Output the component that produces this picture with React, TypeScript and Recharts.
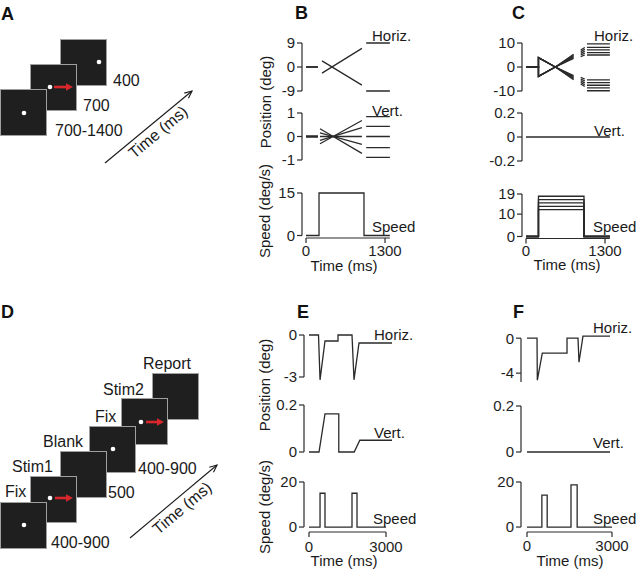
import React from 'react';
import { LineChart, Line, XAxis, YAxis, ReferenceLine } from 'recharts';

const FONT = '"Liberation Sans", Arial, Helvetica, sans-serif';
const INK = '#2a2a2a';

type Pt = { t: number; v: number | null };
const pts = (pairs: (number | null)[][]): Pt[] => pairs.map(([t, v]) => ({ t: t as number, v }));

// ---------------- Panel B (single speed, 2 horiz directions, 5 vertical offsets) ----------------
const bTimeTicks = [0, 1300];
const bHorizTicks = [-9, 0, 9];
const bVertTicks = [-1, 0, 1];
const bSpeedTicks = [0, 15];
const bFixTimes = [0, 197];
const bRampTimes = [263, 920];
const bVertRampTimes = [230, 920];
const bHoldTimes = [990, 1380];
const bHorizRampStart = [-2.3, 2.3];
const bHorizRampEnd = [7.0, -6.8];
const bHorizHold = [9, -9];
const bVertRampStart = [-0.31, -0.17, 0, 0.15, 0.33];
const bVertRampEnd = [0.68, 0.38, 0, -0.34, -0.72];
const bVertHold = [0.85, 0.43, 0, -0.47, -0.89];
const bSpeedTimes = [214, 954];
const bSpeedValue = 15;
const bEndTime = 1380;

// ---------------- Panel C (5 speeds x 2 directions) ----------------
const cTimeTicks = [0, 1300];
const cHorizTicks = [-10, 0, 10];
const cVertTicks = [-0.2, 0, 0.2];
const cSpeedTicks = [0, 10, 19];
const cStepTime = 205;
const cCrossTime = 483;
const cRampEndTime = 783;
const cTailTimes = [900, 967];
const cHoldTimes = [1003, 1380];
const cStepUp = -3.9;
const cStepDown = 3.9;
const cSpeeds = [12, 13.5, 15, 16.5, 18];
const cSpeedOffTime = 954;
const cRampEndUp = [3.6, 4.0, 4.5, 4.9, 5.3];
const cTailStartUp = [4.3, 5.0, 5.7, 6.4, 7.1];
const cTailEndUp = [5.0, 5.8, 6.6, 7.4, 8.1];
const cHoldUp = [5.0, 6.0, 7.1, 8.2, 9.6];
const cRampEndDown = [-3.6, -4.0, -4.5, -4.9, -5.3];
const cTailStartDown = [-4.3, -5.0, -5.7, -6.4, -7.1];
const cTailEndDown = [-5.0, -5.8, -6.6, -7.4, -8.1];
const cHoldDown = [-5.4, -6.5, -7.6, -8.7, -9.9];
const cEndTime = 1380;

// ---------------- Panel E ----------------
const eTimeTicks = [0, 3000];
const eHorizTicks = [-3, 0];
const eVertTicks = [0, 0.2];
const eSpeedTicks = [0, 20];
const eHoriz = [[0, 0], [370, 0], [430, -3.2], [623, -0.43], [1130, -0.43], [1130, 0], [1675, 0], [1753, -3.2], [1948, -0.57], [3234, -0.57]];
const eVert = [[0, 0], [390, 0], [623, 0.1625], [1160, 0.1625], [1160, 0], [1760, 0], [1980, 0.05], [3234, 0.05]];
const eSpeed = [[0, 0], [430, 0], [430, 15], [623, 15], [623, 0], [1675, 0], [1675, 15], [1870, 15], [1870, 0], [3000, 0]];

// ---------------- Panel F ----------------
const fTimeTicks = [0, 3000];
const fHorizTicks = [-4, 0];
const fVertTicks = [0, 0.2];
const fSpeedTicks = [0, 20];
const fHoriz = [[0, 0], [353, 0], [364, -4.8], [540, -1.7], [1412, -1.7], [1412, 0], [1800, 0], [1835, -2.75], [1976, 0.23], [2930, 0.23]];
const fVert = [[0, 0], [2930, 0]];
const fSpeed = [[0, 0], [525, 0], [525, 14.2], [712, 14.2], [712, 0], [1553, 0], [1553, 18.7], [1770, 18.7], [1770, 0], [3000, 0]];

// ---------------- build series ----------------
const bHorizSeries = bHorizRampStart.map((s, i) =>
  pts([
    [bFixTimes[0], 0], [bFixTimes[1], 0], [230, null],
    [bRampTimes[0], s], [bRampTimes[1], bHorizRampEnd[i]], [955, null],
    [bHoldTimes[0], bHorizHold[i]], [bHoldTimes[1], bHorizHold[i]],
  ])
);
const bVertSeries = bVertRampStart.map((s, i) =>
  pts([
    [bFixTimes[0], 0], [bFixTimes[1], 0], [215, null],
    [bVertRampTimes[0], s], [bVertRampTimes[1], bVertRampEnd[i]], [955, null],
    [bHoldTimes[0], bVertHold[i]], [bHoldTimes[1], bVertHold[i]],
  ])
);
const bSpeedSeries = [pts([
  [0, 0], [bSpeedTimes[0], 0], [bSpeedTimes[0], bSpeedValue], [bSpeedTimes[1], bSpeedValue], [bSpeedTimes[1], 0], [bEndTime, 0],
])];

const cBranch = (step: number, end: number[], ts: number[], te: number[], hold: number[]) =>
  end.map((e, i) =>
    pts([
      [0, 0], [cStepTime, 0], [cStepTime, step], [cCrossTime, 0], [cRampEndTime, e], [840, null],
      [cTailTimes[0], ts[i]], [cTailTimes[1], te[i]], [985, null],
      [cHoldTimes[0], hold[i]], [cHoldTimes[1], hold[i]],
    ])
  );
const cHorizSeries = [
  ...cBranch(cStepUp, cRampEndUp, cTailStartUp, cTailEndUp, cHoldUp),
  ...cBranch(cStepDown, cRampEndDown, cTailStartDown, cTailEndDown, cHoldDown),
];
const cVertSeries = [pts([[0, 0], [cEndTime, 0]])];
const cSpeedSeries = cSpeeds.map((s) =>
  pts([[0, 0], [cStepTime, 0], [cStepTime, s], [cSpeedOffTime, s], [cSpeedOffTime, 0], [cEndTime, 0]])
);

type SubProps = {
  left: number; top: number; w: number; h: number;
  xDomain: [number, number]; yDomain: [number, number];
  yTicks: number[]; yAxisSpan: [number, number];
  series: Pt[][];
  xTicks?: number[]; xAxisEnd?: number; xTickMargin?: number;
};

const YW = 44, PT = 14, PR = 30, PB = 14, XH = 34;
const TICK = { fontSize: 15, fill: '#1e1e1e', fontFamily: FONT };

function Sub(p: SubProps) {
  const hasX = !!p.xTicks;
  const width = YW + p.w + PR;
  const height = PT + p.h + (hasX ? XH : 0) + PB;
  return (
    <div style={{ position: 'absolute', left: p.left - YW, top: p.top - PT }}>
      <LineChart width={width} height={height} margin={{ top: PT, right: PR, bottom: PB, left: 0 }}>
        <XAxis
          type="number" dataKey="t" domain={p.xDomain} hide={!hasX} ticks={p.xTicks} interval={0}
          axisLine={false} tickLine={{ stroke: INK, strokeWidth: 1.2 }} tickSize={5} tickMargin={p.xTickMargin ?? 2}
          tick={TICK} height={XH}
        />
        <YAxis
          type="number" domain={p.yDomain} ticks={p.yTicks} interval={0} width={YW}
          axisLine={false} tickLine={{ stroke: INK, strokeWidth: 1.2 }} tickSize={5} tickMargin={2} tick={TICK}
        />
        <ReferenceLine
          segment={[{ x: p.xDomain[0], y: p.yAxisSpan[0] }, { x: p.xDomain[0], y: p.yAxisSpan[1] }]}
          stroke={INK} strokeWidth={1.2} ifOverflow="visible"
        />
        {hasX && (
          <ReferenceLine
            segment={[{ x: 0, y: p.yDomain[0] }, { x: p.xAxisEnd as number, y: p.yDomain[0] }]}
            stroke={INK} strokeWidth={1.2} ifOverflow="visible"
          />
        )}
        {p.series.map((s, i) => (
          <Line
            key={i} data={s} dataKey="v" type="linear" dot={false} activeDot={false}
            stroke={INK} strokeWidth={1.3} isAnimationActive={false} connectNulls={false}
          />
        ))}
      </LineChart>
    </div>
  );
}

const bX: [number, number] = [-66, 1415];
const cX: [number, number] = [-66, 1415];
const eX: [number, number] = [-195, 3260];
const fX: [number, number] = [-212, 3000];

const subplots: (SubProps & { id: string })[] = [
  { id: 'bH', left: 302, top: 43, w: 90, h: 48, xDomain: bX, yDomain: [-9, 9], yTicks: bHorizTicks, yAxisSpan: [-9, 9], series: bHorizSeries },
  { id: 'bV', left: 302, top: 113, w: 90, h: 47, xDomain: bX, yDomain: [-1, 1], yTicks: bVertTicks, yAxisSpan: [-1, 1], series: bVertSeries },
  { id: 'bS', left: 302, top: 193, w: 90, h: 45, xDomain: bX, yDomain: [-0.88, 15], yTicks: bSpeedTicks, yAxisSpan: [0, 15], series: bSpeedSeries, xTicks: bTimeTicks, xAxisEnd: bEndTime, xTickMargin: 2 },
  { id: 'cH', left: 522, top: 43, w: 90, h: 48, xDomain: cX, yDomain: [-10, 10], yTicks: cHorizTicks, yAxisSpan: [-10, 10], series: cHorizSeries },
  { id: 'cV', left: 522, top: 113, w: 90, h: 48, xDomain: cX, yDomain: [-0.2, 0.2], yTicks: cVertTicks, yAxisSpan: [-0.2, 0.2], series: cVertSeries },
  { id: 'cS', left: 522, top: 194, w: 90, h: 44.5, xDomain: cX, yDomain: [-0.9, 19], yTicks: cSpeedTicks, yAxisSpan: [0, 19], series: cSpeedSeries, xTicks: cTimeTicks, xAxisEnd: cEndTime, xTickMargin: 2 },
  { id: 'eH', left: 304, top: 335, w: 88.7, h: 45.5, xDomain: eX, yDomain: [-3.25, 0], yTicks: eHorizTicks, yAxisSpan: [-3, 0], series: [pts(eHoriz)] },
  { id: 'eV', left: 304, top: 405, w: 88.7, h: 47, xDomain: eX, yDomain: [0, 0.2], yTicks: eVertTicks, yAxisSpan: [0, 0.2], series: [pts(eVert)] },
  { id: 'eS', left: 304, top: 482, w: 88.7, h: 50, xDomain: eX, yDomain: [-2.2, 20], yTicks: eSpeedTicks, yAxisSpan: [0, 20], series: [pts(eSpeed)], xTicks: eTimeTicks, xAxisEnd: 3000, xTickMargin: 4 },
  { id: 'fH', left: 521, top: 335.8, w: 91, h: 45.9, xDomain: fX, yDomain: [-5, 0.25], yTicks: fHorizTicks, yAxisSpan: [-5, 0], series: [pts(fHoriz)] },
  { id: 'fV', left: 521, top: 406, w: 91, h: 46, xDomain: fX, yDomain: [0, 0.2], yTicks: fVertTicks, yAxisSpan: [0, 0.2], series: [pts(fVert)] },
  { id: 'fS', left: 521, top: 482, w: 91, h: 50, xDomain: fX, yDomain: [-2.2, 20], yTicks: fSpeedTicks, yAxisSpan: [0, 20], series: [pts(fSpeed)], xTicks: fTimeTicks, xAxisEnd: 3000, xTickMargin: 3 },
];

// ---------------- schematic helpers ----------------
const Sq = ({ x, y }: { x: number; y: number }) => (
  <rect x={x + 0.5} y={y + 0.5} width={46} height={46} fill="#1f1f1f" stroke="#a0a0a0" strokeWidth={1} />
);
const Dot = ({ x, y }: { x: number; y: number }) => <circle cx={x} cy={y} r={2.3} fill="#fff" />;
const RedArrow = ({ x1, x2, y }: { x1: number; x2: number; y: number }) => (
  <g>
    <line x1={x1} y1={y} x2={x2 - 5} y2={y} stroke="#d8282c" strokeWidth={2.6} />
    <polygon points={`${x2},${y} ${x2 - 7},${y - 3.8} ${x2 - 7},${y + 3.8}`} fill="#d8282c" />
  </g>
);
const TimeArrow = ({ x1, y1, x2, y2 }: { x1: number; y1: number; x2: number; y2: number }) => {
  const a = Math.atan2(y2 - y1, x2 - x1);
  const L = 8;
  const p1 = [x2 - L * Math.cos(a - 0.42), y2 - L * Math.sin(a - 0.42)];
  const p2 = [x2 - L * Math.cos(a + 0.42), y2 - L * Math.sin(a + 0.42)];
  return (
    <g stroke="#1a1a1a" strokeWidth={1.1} fill="none">
      <line x1={x1} y1={y1} x2={x2} y2={y2} />
      <polyline points={`${p1[0]},${p1[1]} ${x2},${y2} ${p2[0]},${p2[1]}`} />
    </g>
  );
};

const T = (props: any) => <text fontFamily={FONT} fontSize={15} fill="#1a1a1a" {...props} />;
const Letter = (props: any) => <text fontFamily={FONT} fontSize={18} fontWeight="bold" fill="#111" {...props} />;
const Rot = ({ x, y, children, angle = -90, size = 15 }: any) => (
  <text transform={`translate(${x},${y}) rotate(${angle})`} textAnchor="middle" dominantBaseline="central"
    fontFamily={FONT} fontSize={size} fill="#1a1a1a">{children}</text>
);

export default function App() {
  return (
    <div style={{ position: 'absolute', left: 0, top: 0, width: 640, height: 574, background: '#fff', overflow: 'hidden' }}>
      {subplots.map(({ id, ...p }) => <Sub key={id} {...p} />)}
      <svg width={640} height={574} style={{ position: 'absolute', left: 0, top: 0, pointerEvents: 'none' }}>
        {/* Panel letters */}
        <Letter x={1} y={20}>A</Letter>
        <Letter x={295} y={19}>B</Letter>
        <Letter x={512} y={19}>C</Letter>
        <Letter x={1} y={318}>D</Letter>
        <Letter x={297} y={318}>E</Letter>
        <Letter x={513} y={318}>F</Letter>

        {/* Panel A schematic */}
        <Sq x={60} y={39} /><Dot x={99} y={62} />
        <Sq x={30} y={64} /><Dot x={50} y={87} /><RedArrow x1={54} x2={73} y={87} />
        <Sq x={0} y={89} /><Dot x={24} y={113} />
        <T x={113} y={86} fontSize={16}>400</T>
        <T x={83} y={111} fontSize={16}>700</T>
        <T x={55} y={136} fontSize={16}>700-1400</T>
        <TimeArrow x1={105} y1={163} x2={192} y2={91} />
        <Rot x={158} y={132} angle={-40} size={16}>Time (ms)</Rot>

        {/* Panel D schematic */}
        <Sq x={152} y={373} />
        <Sq x={121} y={398} /><Dot x={141} y={422} /><RedArrow x1={146} x2={164} y={422} />
        <Sq x={89} y={426} /><Dot x={113} y={449} />
        <Sq x={60} y={451} />
        <Sq x={30} y={476} /><Dot x={50} y={498} /><RedArrow x1={55} x2={73} y={498} />
        <Sq x={0} y={502} /><Dot x={24} y={525} />
        <T x={5} y={497} fontSize={16}>Fix</T>
        <T x={12} y={472} fontSize={16}>Stim1</T>
        <T x={43} y={447} fontSize={16}>Blank</T>
        <T x={95} y={422} fontSize={16}>Fix</T>
        <T x={103} y={395} fontSize={16}>Stim2</T>
        <T x={143} y={369} fontSize={16}>Report</T>
        <T x={51} y={548} fontSize={16}>400-900</T>
        <T x={108} y={498} fontSize={16}>500</T>
        <T x={138} y={474} fontSize={16}>400-900</T>
        <TimeArrow x1={130} y1={538} x2={217} y2={465} />
        <Rot x={182} y={508} angle={-40} size={16}>Time (ms)</Rot>

        {/* Panel B labels */}
        <T x={372} y={41}>Horiz.</T>
        <T x={372} y={116}>Vert.</T>
        <T x={372} y={232}>Speed</T>
        <Rot x={265} y={102}>Position (deg)</Rot>
        <Rot x={264} y={211}>Speed (deg/s)</Rot>
        <T x={344} y={271} textAnchor="middle">Time (ms)</T>

        {/* Panel C labels */}
        <T x={594} y={41}>Horiz.</T>
        <T x={594} y={136}>Vert.</T>
        <T x={593} y={232}>Speed</T>
        <T x={567} y={270} textAnchor="middle">Time (ms)</T>

        {/* Panel E labels */}
        <T x={374} y={340}>Horiz.</T>
        <T x={374} y={438}>Vert.</T>
        <T x={373} y={524}>Speed</T>
        <Rot x={264} y={385}>Position (deg)</Rot>
        <Rot x={264} y={507}>Speed (deg/s)</Rot>
        <T x={344} y={566} textAnchor="middle">Time (ms)</T>

        {/* Panel F labels */}
        <T x={593} y={333}>Horiz.</T>
        <T x={593} y={448}>Vert.</T>
        <T x={593} y={524}>Speed</T>
        <T x={570} y={566} textAnchor="middle">Time (ms)</T>
      </svg>
    </div>
  );
}
